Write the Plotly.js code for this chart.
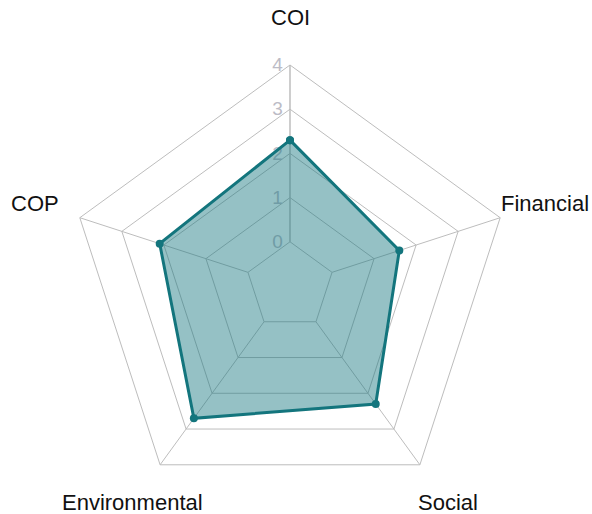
<!DOCTYPE html>
<html>
<head>
<meta charset="utf-8">
<script src="https://cdn.plot.ly/plotly-3.0.1.min.js"></script>
<style>html,body{margin:0;padding:0;background:#fff;}#chart{width:592px;height:514px;}</style>
</head>
<body>
<div id="chart"></div>
<script>
// Data
const categories = ["COI", "Financial", "Social", "Environmental", "COP"];
const values = [2.3, 1.6, 2.3, 2.7, 2.1];
const radialTicks = [0, 1, 2, 3, 4];
const radialTickLabels = ["0", "1", "2", "3", "4"];

// Layout geometry (pixels)
const W = 592, H = 514;
const cx = 290, cy = 286, R = 221, labelR = 268;
const HOLE = 0.2;

const theta = categories.concat([categories[0]]);
const r = values.concat([values[0]]);
const teal = "#13757d";

// grid subplot (with hole); an invisible trace so the subplot is drawn
const gridTrace = {
  type: "scatterpolar", subplot: "polar",
  r: [radialTicks[0]], theta: [categories[0]],
  mode: "markers", marker: {opacity: 0},
  hoverinfo: "skip", showlegend: false
};
// data on an overlaid polar without a hole, so the centre is filled too
const dataTrace = {
  type: "scatterpolar", subplot: "polar2",
  r: r, theta: theta,
  mode: "lines+markers", fill: "toself",
  fillcolor: "rgba(20,118,126,0.45)",
  line: {color: teal, width: 3},
  marker: {color: teal, size: 8},
  hoverinfo: "skip", showlegend: false
};

const annotations = categories.map((c, i) => {
  const ang = (90 - i * 360 / categories.length) * Math.PI / 180;
  const px = cx + labelR * Math.cos(ang);
  const py = cy - labelR * Math.sin(ang);
  return {
    text: c, x: px / W, y: 1 - py / H, xref: "paper", yref: "paper",
    showarrow: false, xanchor: "center", yanchor: "middle",
    font: {family: "Liberation Sans, Arial, sans-serif", size: 22, color: "#111"}
  };
});

const domain = {x: [(cx - R) / W, (cx + R) / W], y: [1 - (cy + R) / H, 1 - (cy - R) / H]};
const lo = -HOLE * 4 / (1 - HOLE);

const layout = {
  width: W, height: H,
  margin: {l: 0, r: 0, t: 0, b: 0},
  paper_bgcolor: "#fff",
  showlegend: false,
  annotations: annotations,
  polar: {
    domain: domain,
    bgcolor: "rgba(0,0,0,0)",
    gridshape: "linear",
    hole: HOLE,
    radialaxis: {
      range: [0, 4],
      tickvals: radialTicks,
      ticktext: radialTickLabels,
      angle: 90,
      tickangle: 90,
      side: "counterclockwise",
      showline: true,
      linecolor: "#bdbdbd",
      linewidth: 1,
      gridcolor: "#bdbdbd",
      gridwidth: 1,
      ticks: "",
      tickfont: {family: "Liberation Sans, Arial, sans-serif", size: 19, color: "#bcbcc6"}
    },
    angularaxis: {
      categoryarray: categories,
      categoryorder: "array",
      direction: "clockwise",
      rotation: 90,
      showticklabels: false,
      ticks: "",
      showline: true,
      linecolor: "#bdbdbd",
      linewidth: 1,
      gridcolor: "#bdbdbd",
      gridwidth: 1
    }
  },
  polar2: {
    domain: domain,
    bgcolor: "rgba(0,0,0,0)",
    gridshape: "linear",
    radialaxis: {range: [lo, 4], visible: false, showgrid: false, showline: false, showticklabels: false, ticks: ""},
    angularaxis: {categoryarray: categories, categoryorder: "array", direction: "clockwise", rotation: 90, showgrid: false, showline: false, showticklabels: false, ticks: ""}
  }
};

Plotly.newPlot("chart", [gridTrace, dataTrace], layout, {staticPlot: true, displayModeBar: false});
</script>
</body>
</html>
